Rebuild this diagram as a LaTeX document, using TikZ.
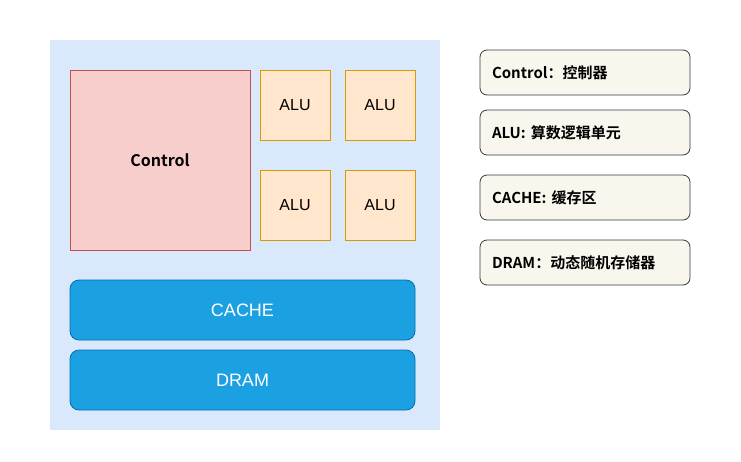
\documentclass[tikz,border=0pt]{standalone}
\usepackage{fontspec}
\setmainfont{Liberation Sans}
\newfontfamily\cjkbold{Noto Sans CJK SC Bold}
\usepackage{xcolor}
\usetikzlibrary{positioning}

\definecolor{cpubg}{HTML}{DAE8FC}
\definecolor{ctrlfill}{HTML}{F8CECC}
\definecolor{ctrldraw}{HTML}{B85450}
\definecolor{alufill}{HTML}{FFE6CC}
\definecolor{aludraw}{HTML}{D79B00}
\definecolor{memfill}{HTML}{1BA1E2}
\definecolor{memdraw}{HTML}{006EAF}
\definecolor{notefill}{HTML}{F9F7ED}
\definecolor{notedraw}{HTML}{36393D}

\tikzset{
	alubox/.style={draw=aludraw,fill=alufill,line width=0.8pt,minimum width=70pt,minimum height=70pt,font=\fontsize{16}{19}\selectfont},
	membox/.style={draw=memdraw,fill=memfill,line width=0.8pt,rounded corners=9pt,minimum width=345pt,minimum height=60pt,text=white,font=\fontsize{18}{21}\selectfont},
	notebox/.style={draw=notedraw,fill=notefill,line width=0.8pt,rounded corners=7pt,minimum height=45pt,text width=186pt,inner xsep=12pt,align=left,font=\cjkbold\fontsize{15}{18}\selectfont}
}

\begin{document}
\begin{tikzpicture}[x=1pt,y=-1pt]
	\useasboundingbox (0,0) rectangle (741,461);
	
	\node[fill=cpubg,minimum width=390pt,minimum height=390pt,inner sep=0pt] (cpu) at (245,235) {};
	
	\node[draw=ctrldraw,fill=ctrlfill,line width=0.8pt,minimum width=180pt,minimum height=180pt,font=\cjkbold\fontsize{16}{19}\selectfont] (control) at (160,160) {Control};
	
	\node[alubox] (alu_a) at (295,105) {ALU};
	\node[alubox] (alu_b) at (380,105) {ALU};
	\node[alubox] (alu_c) at (295,205) {ALU};
	\node[alubox] (alu_d) at (380,205) {ALU};
	
	\node[membox] (cache) at (242.5,310) {CACHE};
	\node[membox] (dram) at (242.5,380) {DRAM};
	
	\node[notebox] (note_control) at (585,72.5) {Control：控制器};
	\node[notebox] (note_alu) at (585,132.5) {ALU: 算数逻辑单元};
	\node[notebox] (note_cache) at (585,197.5) {CACHE: 缓存区};
	\node[notebox] (note_dram) at (585,262.5) {DRAM：动态随机存储器};
\end{tikzpicture}
\end{document}
